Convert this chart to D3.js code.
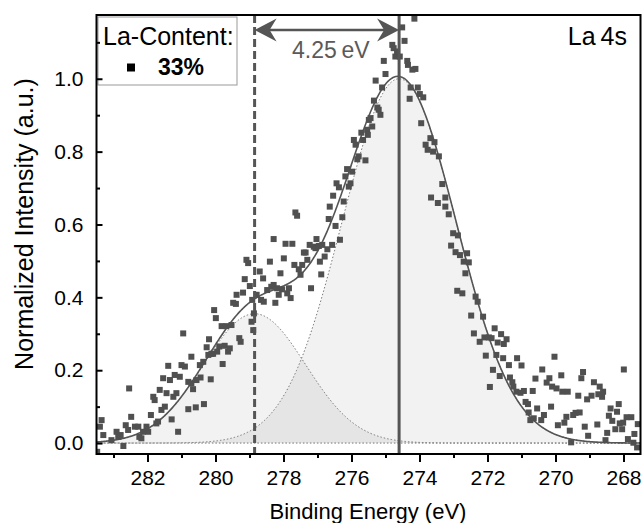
<!DOCTYPE html>
<html><head><meta charset="utf-8">
<script src="https://cdn.jsdelivr.net/npm/d3@7"></script>
<style>body{margin:0;background:#fff}svg{display:block}text{font-family:"Liberation Sans",Arial,sans-serif}</style>
</head><body><svg id="c" width="643" height="523"></svg>
<script>
// Measured data (binding energy in eV, normalized intensity)
const energy=[
283.40,283.35,283.30,283.06,282.91,282.86,282.79,282.71,282.64,282.57,
282.54,282.48,282.37,282.27,282.24,282.18,282.13,282.03,281.98,281.90,
281.83,281.79,281.74,281.69,281.64,281.59,281.54,281.49,281.44,281.39,
281.34,281.29,281.24,281.20,281.15,281.10,281.05,281.00,280.95,280.90,
280.80,280.80,280.71,280.71,280.66,280.58,280.56,280.46,280.44,280.36,
280.34,280.26,280.21,280.19,280.14,280.12,280.07,280.04,279.99,279.95,
279.89,279.82,279.79,279.73,279.68,279.63,279.58,279.53,279.48,279.40,
279.38,279.30,279.26,279.19,279.14,279.09,279.04,278.99,278.94,278.89,
278.92,278.87,278.79,278.70,278.66,278.60,278.58,278.48,278.40,278.36,
278.29,278.29,278.24,278.19,278.14,278.09,278.04,277.99,277.94,277.89,
277.84,277.79,277.74,277.68,277.65,277.60,277.55,277.50,277.45,277.40,
277.35,277.30,277.23,277.19,277.11,277.06,277.03,276.96,276.93,276.89,
276.86,276.79,276.71,276.67,276.64,276.57,276.54,276.47,276.44,276.37,
276.34,276.27,276.23,276.18,276.13,276.08,276.03,275.98,275.93,275.88,
275.83,275.79,275.71,275.66,275.59,275.54,275.49,275.52,275.44,275.39,
275.34,275.24,275.20,275.15,275.29,275.10,275.05,275.00,274.80,274.76,
274.71,274.66,274.58,274.51,274.44,274.36,274.34,274.21,274.12,274.15,
274.26,274.05,273.99,273.89,274.29,273.95,273.68,273.56,273.82,273.76,
273.60,273.43,273.33,273.66,273.46,273.24,273.24,273.14,273.01,272.87,
273.07,272.94,272.81,272.60,272.70,272.55,272.65,272.89,272.74,272.35,
272.29,272.48,272.13,271.79,272.40,272.23,272.09,271.96,271.88,271.70,
271.60,271.44,271.52,272.05,271.74,271.54,271.13,270.03,271.37,271.00,
271.84,270.39,271.64,271.34,270.59,270.18,269.83,269.19,269.24,267.99,
271.27,270.26,268.87,271.93,271.24,270.10,269.97,268.70,271.15,271.03,
270.93,270.67,269.80,269.64,269.33,268.94,268.74,268.60,268.63,269.07,
270.88,270.81,270.54,270.13,268.14,270.79,268.38,268.19,269.41,269.29,
269.48,269.68,270.34,270.64,270.74,270.42,268.43,267.91,267.77,268.01,
268.33,268.11,267.58,268.77,269.93,269.74,269.14,268.04,268.24,269.58,
268.48,269.04,267.68,268.53,269.54,267.87,267.71,267.60,283.48];
const intensity=[
0.045,0.063,0.022,0.008,0.031,0.017,0.022,-0.008,0.049,0.036,
0.150,0.072,0.045,0.045,0.017,0.013,0.031,0.045,0.031,0.077,
0.127,0.118,0.054,0.059,0.146,0.091,0.178,0.100,0.137,0.212,
0.173,0.065,0.127,0.187,0.137,0.031,0.182,0.214,0.301,0.210,
0.168,0.093,0.237,0.164,0.148,0.098,0.173,0.214,0.180,0.223,
0.107,0.263,0.242,0.285,0.175,0.245,0.245,0.365,0.343,0.251,
0.265,0.321,0.217,0.267,0.321,0.251,0.260,0.324,0.385,0.382,
0.407,0.288,0.278,0.413,0.450,0.503,0.494,0.431,0.333,0.310,
0.393,0.356,0.407,0.471,0.393,0.452,0.388,0.420,0.498,0.429,
0.560,0.434,0.385,0.425,0.407,0.466,0.422,0.507,0.547,0.411,
0.425,0.398,0.547,0.489,0.633,0.624,0.477,0.462,0.489,0.523,
0.523,0.503,0.544,0.425,0.539,0.535,0.560,0.541,0.498,0.463,
0.544,0.512,0.532,0.615,0.649,0.544,0.679,0.596,0.713,0.702,
0.558,0.620,0.663,0.732,0.752,0.704,0.713,0.745,0.832,0.819,
0.779,0.787,0.852,0.832,0.776,0.860,0.887,0.846,0.892,0.869,
0.940,0.921,0.915,0.901,0.995,0.976,1.049,1.013,1.093,1.084,
1.061,1.075,1.061,1.141,1.104,1.049,1.038,1.025,1.027,1.165,
0.976,0.976,0.958,0.949,0.945,0.878,0.837,0.826,0.819,0.805,
0.800,0.787,0.711,0.674,0.659,0.674,0.649,0.628,0.576,0.570,
0.542,0.524,0.516,0.521,0.498,0.496,0.466,0.418,0.411,0.402,
0.388,0.350,0.347,0.315,0.301,0.278,0.290,0.290,0.288,0.276,
0.299,0.285,0.272,0.240,0.242,0.233,0.233,0.237,0.214,0.213,
0.201,0.202,0.184,0.180,0.177,0.178,0.186,0.195,0.178,0.202,
0.167,0.166,0.167,0.154,0.155,0.155,0.150,0.155,0.141,0.138,
0.143,0.143,0.141,0.141,0.130,0.130,0.134,0.141,0.127,0.120,
0.113,0.107,0.095,0.100,0.107,0.084,0.095,0.086,0.083,0.084,
0.077,0.072,0.077,0.068,0.063,0.063,0.075,0.071,0.071,0.056,
0.061,0.054,0.052,0.051,0.049,0.056,0.045,0.038,0.038,0.034,
0.028,0.020,0.025,0.008,0.002,0.011,0.001,-0.012,-0.024];

const xTicks=[282,280,278,276,274,272,270,268];
const xMinorTicks=[283,281,279,277,275,273,271,269];
const yTicks=[0,0.2,0.4,0.6,0.8,1.0];
const yMinorTicks=[0.1,0.3,0.5,0.7,0.9,1.1];

// Fit components (Gaussian peaks)
const peakCenter=[274.6,278.85];
const peakAmp=[1.0,0.355];
const peakSigma=[1.68,1.5];
const markerLines=[278.85,274.6]; // dashed, solid
const splitLabel="4.25\u2009eV";
const legendTitle="La-Content:";
const legendItem="33%";
const panelLabel="La\u20094s";
const xTitle="Binding Energy (eV)";
const yTitle="Normalized Intensity (a.u.)";

const svg=d3.select("#c");
const L=96.5,R=640.5,T=15,B=454;
const x=d3.scaleLinear().domain([283.5,267.5]).range([L,R]);
const y=d3.scaleLinear().domain([-0.03,1.175]).range([B,T]);

svg.append("defs").append("clipPath").attr("id","clip")
  .append("rect").attr("x",L).attr("y",T).attr("width",R-L).attr("height",B-T);
const plot=svg.append("g").attr("clip-path","url(#clip)");

const eGrid=d3.range(267.4,283.61,0.02);
const g=(e,i)=>peakAmp[i]*Math.exp(-0.5*Math.pow((e-peakCenter[i])/peakSigma[i],2));
const env=e=>g(e,0)+g(e,1);

// filled peak areas
[1,0].forEach(i=>{
  plot.append("path").datum(eGrid)
    .attr("d",d3.area().x(e=>x(e)).y0(y(0)).y1(e=>y(g(e,i))))
    .attr("fill","#000").attr("fill-opacity",0.05);
});
// baseline
plot.append("path").datum(eGrid)
  .attr("d",d3.line().x(e=>x(e)).y(()=>y(0)))
  .attr("fill","none").attr("stroke","#666").attr("stroke-width",1).attr("stroke-dasharray","1.5,2");
// peak outlines
[0,1].forEach(i=>{
  plot.append("path").datum(eGrid)
    .attr("d",d3.line().x(e=>x(e)).y(e=>y(g(e,i))))
    .attr("fill","none").attr("stroke","#777").attr("stroke-width",1).attr("stroke-dasharray","1.5,2");
});
// envelope
plot.append("path").datum(eGrid)
  .attr("d",d3.line().x(e=>x(e)).y(e=>y(env(e))))
  .attr("fill","none").attr("stroke","#555").attr("stroke-width",1.6);

// scatter
const pts=energy.map((e,i)=>({e,v:intensity[i]}));
plot.selectAll("rect.pt").data(pts).join("rect").attr("class","pt")
  .attr("x",d=>x(d.e)-3).attr("y",d=>y(d.v)-3).attr("width",6).attr("height",6)
  .attr("fill","#505050");

// vertical marker lines
svg.append("line").attr("x1",x(markerLines[0])).attr("x2",x(markerLines[0]))
  .attr("y1",T).attr("y2",B).attr("stroke","#555").attr("stroke-width",3).attr("stroke-dasharray","8,4");
svg.append("line").attr("x1",x(markerLines[1])).attr("x2",x(markerLines[1]))
  .attr("y1",T).attr("y2",B).attr("stroke","#555").attr("stroke-width",3);

// double arrow
const ay=30, xa=x(markerLines[0]), xb=x(markerLines[1]);
svg.append("line").attr("x1",xa+8).attr("x2",xb-8).attr("y1",ay).attr("y2",ay)
  .attr("stroke","#555").attr("stroke-width",2.5);
function head(tip,dir){
  const len=22,w=11.5,notch=15;
  return `M${tip},${ay} L${tip+dir*len},${ay-w} L${tip+dir*notch},${ay} L${tip+dir*len},${ay+w} Z`;
}
svg.append("path").attr("d",head(xa,1)).attr("fill","#555");
svg.append("path").attr("d",head(xb,-1)).attr("fill","#555");
svg.append("text").attr("x",(xa+xb)/2+4).attr("y",58).attr("text-anchor","middle")
  .attr("font-size",23).attr("fill","#5a5a5a").text(splitLabel);

// legend
svg.append("rect").attr("x",98).attr("y",17).attr("width",139).attr("height",68)
  .attr("fill","#fff").attr("stroke","#999").attr("stroke-width",1);
svg.append("text").attr("x",103).attr("y",45).attr("font-size",25).attr("fill","#000").text(legendTitle);
svg.append("rect").attr("x",127).attr("y",63.5).attr("width",8).attr("height",8).attr("fill","#000");
svg.append("text").attr("x",158).attr("y",75).attr("font-size",23).attr("font-weight","bold").attr("fill","#000").text(legendItem);

svg.append("text").attr("x",627).attr("y",45).attr("text-anchor","end").attr("font-size",25).attr("fill","#000").text(panelLabel);

// frame
svg.append("rect").attr("x",L).attr("y",T).attr("width",R-L).attr("height",B-T)
  .attr("fill","none").attr("stroke","#000").attr("stroke-width",2);

// axes
function styleAxis(sel,fs){
  sel.select(".domain").remove();
  sel.selectAll(".tick line").attr("stroke","#000").attr("stroke-width",2);
  sel.selectAll(".tick text").attr("font-size",fs).attr("fill","#000").attr("font-family",'"Liberation Sans",Arial,sans-serif');
}
const xa1=svg.append("g").attr("transform",`translate(0,${B})`)
  .call(d3.axisBottom(x).tickValues(xTicks).tickSize(8).tickPadding(8).tickFormat(d3.format("d")));
styleAxis(xa1,21);
const xa2=svg.append("g").attr("transform",`translate(0,${B})`)
  .call(d3.axisBottom(x).tickValues(xMinorTicks).tickSize(4).tickFormat(""));
styleAxis(xa2,21);
const ya1=svg.append("g").attr("transform",`translate(${L},0)`)
  .call(d3.axisLeft(y).tickValues(yTicks).tickSize(-6).tickPadding(13).tickFormat(d3.format(".1f")));
styleAxis(ya1,21);
const ya2=svg.append("g").attr("transform",`translate(${L},0)`)
  .call(d3.axisLeft(y).tickValues(yMinorTicks).tickSize(-3.5).tickFormat(""));
styleAxis(ya2,21);

svg.append("text").attr("x",368).attr("y",519).attr("text-anchor","middle")
  .attr("font-size",22).attr("fill","#000").text(xTitle);
svg.append("text").attr("transform","translate(33,224) rotate(-90)").attr("text-anchor","middle")
  .attr("font-size",25).attr("fill","#000").text(yTitle);
</script></body></html>
